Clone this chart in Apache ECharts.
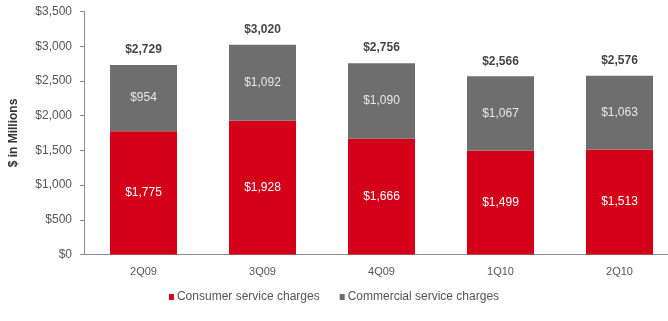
<!DOCTYPE html>
<html><head><meta charset="utf-8">
<script src="https://cdn.jsdelivr.net/npm/echarts@6/dist/echarts.min.js"></script>
<style>html,body{margin:0;padding:0;background:#fff}#c{width:668px;height:321px}</style>
</head><body><div id="c"></div>
<script>
const categories = ['2Q09', '3Q09', '4Q09', '1Q10', '2Q10'];
const consumer = [1775, 1928, 1666, 1499, 1513];
const commercial = [954, 1092, 1090, 1067, 1063];
const totals = [2729, 3020, 2756, 2566, 2576];
const yTicks = [0, 500, 1000, 1500, 2000, 2500, 3000, 3500];

const fmt = v => '$' + v.toLocaleString('en-US');
const font = 'Liberation Sans, Arial, sans-serif';
const chart = echarts.init(document.getElementById('c'));
chart.setOption({
  animation: false,
  textStyle: { fontFamily: font },
  grid: { left: 84, top: 11.5, width: 595, bottom: 66.5, containLabel: false, outerBoundsMode: 'none' },
  xAxis: {
    type: 'category', data: categories,
    axisLine: { lineStyle: { color: '#8c8c8c', width: 1 } },
    axisTick: { show: false },
    axisLabel: { color: '#555', fontSize: 11, margin: 12, fontFamily: font }
  },
  yAxis: {
    type: 'value', min: yTicks[0], max: yTicks[yTicks.length - 1], interval: 500,
    name: '$ in Millions', nameLocation: 'middle', nameGap: 64,
    nameTextStyle: { color: '#333', fontSize: 12, fontWeight: 'bold', fontFamily: font },
    splitLine: { show: false },
    axisLine: { show: true, lineStyle: { color: '#8c8c8c', width: 1 } },
    axisTick: { show: true, inside: false, length: 4, lineStyle: { color: '#8c8c8c' } },
    axisLabel: { color: '#555', fontSize: 12, margin: 12, fontFamily: font, formatter: v => fmt(v) }
  },
  legend: {
    data: ['Consumer service charges', 'Commercial service charges'],
    bottom: 13, left: 'center', icon: 'rect', itemWidth: 5, itemHeight: 6, itemGap: 20,
    textStyle: { color: '#555', fontSize: 12, fontFamily: font, padding: [0, 0, 0, -2] }
  },
  series: [
    { name: 'Consumer service charges', type: 'bar', stack: 's', data: consumer, barWidth: 67,
      itemStyle: { color: '#d4001a' },
      label: { show: true, position: 'inside', color: '#fff', fontSize: 12, formatter: p => fmt(p.value) } },
    { name: 'Commercial service charges', type: 'bar', stack: 's', data: commercial, barWidth: 67,
      itemStyle: { color: '#6e6e6e' },
      label: { show: true, position: 'inside', color: '#e8e8e8', fontSize: 12, formatter: p => fmt(p.value) } },
    { name: 'total', type: 'scatter', data: totals, symbolSize: 0, silent: true,
      label: { show: true, position: 'top', distance: 9, color: '#111', fontSize: 12, fontWeight: 'bold', formatter: p => fmt(p.value) } }
  ]
});
</script></body></html>
